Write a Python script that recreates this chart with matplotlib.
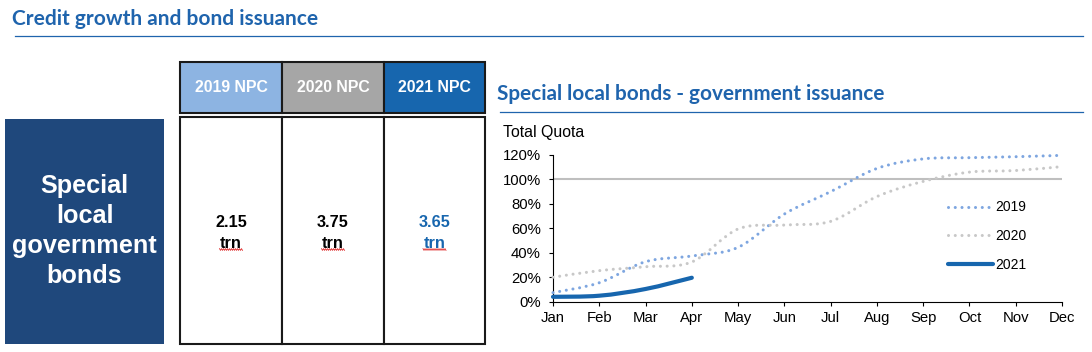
import matplotlib
matplotlib.use('Agg')
import matplotlib.pyplot as plt
from matplotlib.path import Path
from matplotlib.patches import PathPatch, Rectangle
from matplotlib.lines import Line2D
import numpy as np

# ---------------- data ----------------
months = ['Jan', 'Feb', 'Mar', 'Apr', 'May', 'Jun', 'Jul', 'Aug', 'Sep', 'Oct', 'Nov', 'Dec']
y2019 = [7.4, 15.5, 32.7, 37.4, 44.5, 71.7, 90.0, 109.0, 116.8, 117.8, 118.6, 119.7]
y2020 = [20.0, 25.4, 28.6, 32.5, 59.5, 62.7, 65.7, 86.0, 98.4, 106.0, 107.3, 110.5]
y2021 = [4.0, 4.9, 10.4, 19.6]
series_labels = ['2019', '2020', '2021']
yticks = [0, 20, 40, 60, 80, 100, 120]
ytick_labels = ['0%', '20%', '40%', '60%', '80%', '100%', '120%']
npc_years = ['2019 NPC', '2020 NPC', '2021 NPC']
npc_quota = ['2.15', '3.75', '3.65']
npc_unit = 'trn'

# ---------------- styles ----------------
W, H = 1092, 352
TITLE_BLUE = '#1F64AD'
NAVY = '#1F487C'
HEAD_COLORS = ['#8DB4E2', '#A6A6A6', '#1766AE']
QUOTA_COLORS = ['black', 'black', '#1766AE']
C2019 = '#7EA6E0'
C2020 = '#C8C8C8'
C2021 = '#1766AE'
ARIAL = 'Liberation Sans'
CALIBRI = 'Lato'

fig = plt.figure(figsize=(W / 100, H / 100), dpi=100)
fig.patch.set_facecolor('white')


def fx(x):
    return x / W


def fy(y):
    return 1 - y / H


def rect(x0, y0, x1, y1, **kw):
    r = Rectangle((fx(x0), fy(y1)), (x1 - x0) / W, (y1 - y0) / H,
                  transform=fig.transFigure, **kw)
    fig.add_artist(r)
    return r


def fit_width(t, target):
    fig.canvas.draw()
    w = t.get_window_extent(renderer=fig.canvas.get_renderer()).width
    t.set_fontsize(t.get_fontsize() * target / w)


# ---------------- titles ----------------
t1 = fig.text(fx(12), fy(25.3), 'Credit growth and bond issuance', color=TITLE_BLUE,
              fontsize=13, fontweight='bold', family=CALIBRI, ha='left', va='baseline')
fig.add_artist(Line2D([fx(15), fx(1083)], [fy(35.7), fy(35.7)], color=TITLE_BLUE,
                      lw=0.9, transform=fig.transFigure))
t2 = fig.text(fx(497), fy(100), 'Special local bonds - government issuance', color=TITLE_BLUE,
              fontsize=13, fontweight='bold', family=CALIBRI, ha='left', va='baseline')
fig.add_artist(Line2D([fx(500), fx(1083)], [fy(112.3), fy(112.3)], color=TITLE_BLUE,
                      lw=0.9, transform=fig.transFigure))
fit_width(t1, 305)
fit_width(t2, 388)

# ---------------- left navy box ----------------
rect(5, 119, 164, 344, facecolor=NAVY, edgecolor='none')
fig.text(fx(84.5), fy(231), 'Special\nlocal\ngovernment\nbonds', color='white',
         fontsize=18.2, fontweight='bold', family=ARIAL, ha='center', va='center',
         linespacing=1.3, multialignment='center')

# ---------------- NPC table ----------------
col_edges = [180, 282, 384, 485]
for i, (lab, q) in enumerate(zip(npc_years, npc_quota)):
    x0, x1 = col_edges[i], col_edges[i + 1]
    rect(x0, 62, x1, 113, facecolor=HEAD_COLORS[i], edgecolor='#1A1A1A', lw=1.5)
    rect(x0, 117, x1, 344, facecolor='white', edgecolor='#1A1A1A', lw=1.5)
    xc = (x0 + x1) / 2
    fig.text(fx(xc), fy(88), lab, color='white', fontsize=11.4, fontweight='bold',
             family=ARIAL, ha='center', va='center')
    fig.text(fx(xc), fy(222), q, color=QUOTA_COLORS[i], fontsize=11.7, fontweight='bold',
             family=ARIAL, ha='center', va='center')
    tt = fig.text(fx(xc), fy(243), npc_unit, color=QUOTA_COLORS[i], fontsize=11.7,
                  fontweight='bold', family=ARIAL, ha='center', va='center')
    # red spell-check squiggle under the unit
    sx = np.linspace(xc - 11.5, xc + 11.5, 24)
    sy = 249.5 + 0.9 * np.where(np.arange(24) % 2 == 0, -1, 1)
    fig.add_artist(Line2D(fx(sx), fy(sy), color='#E03030', lw=0.6,
                          transform=fig.transFigure))

# ---------------- line chart ----------------
ax_left, ax_right, ax_bottom, ax_top = 553, 1062, 301.7, 155
ax = fig.add_axes([fx(ax_left), fy(ax_bottom), (ax_right - ax_left) / W,
                   (ax_bottom - ax_top) / H])
ax.set_facecolor('none')


def smooth_path(xs, ys):
    P = np.column_stack([xs, ys]).astype(float)
    n = len(P)
    verts = [P[0]]
    codes = [Path.MOVETO]
    for i in range(n - 1):
        p0 = P[i - 1] if i > 0 else P[i]
        p3 = P[i + 2] if i + 2 < n else P[i + 1]
        c1 = P[i] + (P[i + 1] - p0) / 6
        c2 = P[i + 1] - (p3 - P[i]) / 6
        verts += [c1, c2, P[i + 1]]
        codes += [Path.CURVE4] * 3
    return Path(verts, codes)


dot = (0, (0.01, 2.2))
styles = [
    dict(color=C2019, lw=2.2, ls=dot),
    dict(color=C2020, lw=2.2, ls=dot),
    dict(color=C2021, lw=3.0, ls='-'),
]
ax.axhline(100, color='#BFBFBF', lw=1.5, zorder=1)
for ys, st in zip([y2019, y2020, y2021], styles):
    xs = np.arange(len(ys))
    pp = PathPatch(smooth_path(xs, ys), fill=False, edgecolor=st['color'], lw=st['lw'],
                   linestyle=st['ls'], capstyle='round', joinstyle='round',
                   clip_on=False, zorder=3)
    ax.add_patch(pp)

ax.set_xlim(0, len(months) - 1)
ax.set_ylim(0, 120)
ax.set_xticks(range(len(months)))
ax.set_xticklabels(months)
ax.set_yticks(yticks)
ax.set_yticklabels(ytick_labels)
for s in ['top', 'right']:
    ax.spines[s].set_visible(False)
for s in ['left', 'bottom']:
    ax.spines[s].set_linewidth(0.8)
    ax.spines[s].set_color('black')
ax.tick_params(axis='both', direction='out', length=3, width=0.8, color='black',
               labelsize=10.7, labelcolor='black')
ax.tick_params(axis='y', pad=5.8)
ax.tick_params(axis='x', pad=4.0)
for lab in ax.get_xticklabels() + ax.get_yticklabels():
    lab.set_family(ARIAL)

fig.text(fx(503), fy(136.7), 'Total Quota', fontsize=11.4, family=ARIAL,
         ha='left', va='baseline', color='black')

handles = [Line2D([], [], color=st['color'], lw=st['lw'], linestyle=st['ls'],
                  dash_capstyle='round', solid_capstyle='round') for st in styles]
leg = ax.legend(handles, series_labels, loc='center left',
                bbox_to_anchor=(fx(948), fy(236)), bbox_transform=fig.transFigure,
                frameon=False, borderpad=0, borderaxespad=0, handlelength=3.24,
                handletextpad=0.15, labelspacing=1.05,
                prop={'family': ARIAL, 'size': 10})

fig.savefig('out.png', dpi=100, facecolor='white')
